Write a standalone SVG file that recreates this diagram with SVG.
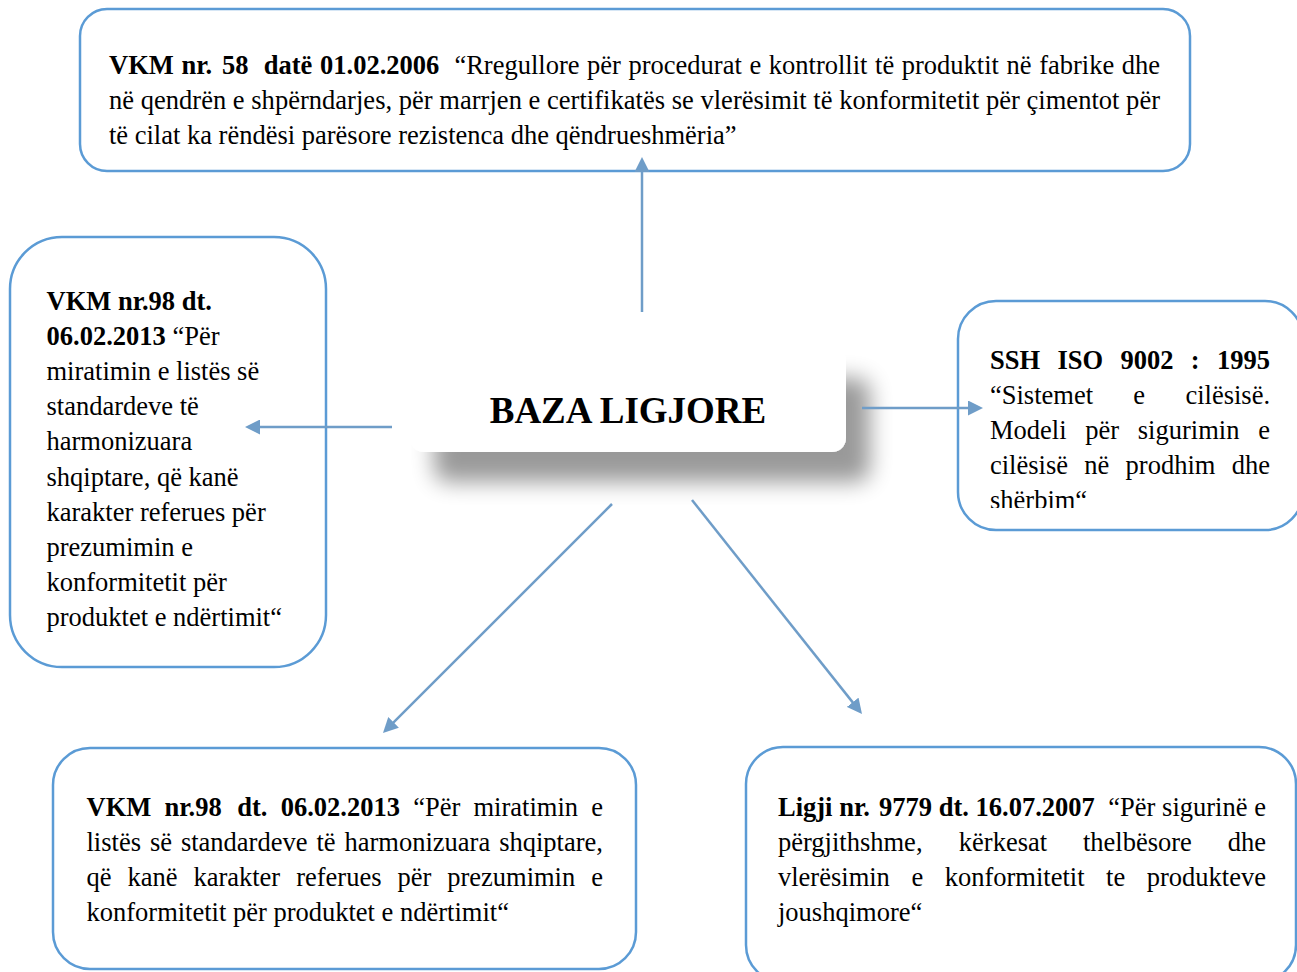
<svg xmlns="http://www.w3.org/2000/svg" width="1297" height="972" viewBox="0 0 1297 972">
<style>
.box{fill:#fff;stroke:#5B9BD5;stroke-width:2.5}
.t{font-family:"Liberation Serif","Times New Roman",serif;font-size:26.5px;fill:#000}
.b{font-weight:bold}
.conn line{stroke:#6F9DC8;stroke-width:2.5;marker-end:url(#ah)}
</style>
<defs>
<marker id="ah" markerUnits="userSpaceOnUse" viewBox="0 0 15 15" markerWidth="15" markerHeight="15" refX="11" refY="7.5" orient="auto">
<path d="M0,0 L15,7.5 L0,15 z" fill="#6F9DC8"/>
</marker>
<filter id="sh" x="-15%" y="-30%" width="140%" height="200%">
<feGaussianBlur in="SourceAlpha" stdDeviation="11"/>
<feOffset dx="24" dy="30" result="o"/>
<feComponentTransfer><feFuncA type="linear" slope="0.4"/></feComponentTransfer>
<feMerge><feMergeNode/><feMergeNode in="SourceGraphic"/></feMerge>
</filter>
<clipPath id="rclip"><rect x="958" y="301" width="339" height="207"/></clipPath>
</defs>
<rect width="1297" height="972" fill="#fff"/>

<g id="node-top">
<rect class="box" x="80" y="9" width="1110" height="162" rx="27"/>
<text class="t" y="73.5"><tspan class="b" x="109">VKM</tspan><tspan class="b" x="181.4">nr.</tspan><tspan class="b" x="222.1">58</tspan><tspan class="b" x="263.8">datë</tspan><tspan class="b" x="320">01.02.2006</tspan><tspan x="454.4">“Rregullore</tspan><tspan x="587.1">për</tspan><tspan x="628.5">procedurat</tspan><tspan x="749.4">e</tspan><tspan x="768.8">kontrollit</tspan><tspan x="875.1">të</tspan><tspan x="901.8">produktit</tspan><tspan x="1006.6">në</tspan><tspan x="1039.2">fabrike</tspan><tspan x="1121.8">dhe</tspan></text>
<text class="t" x="109" y="108.5" textLength="1051" lengthAdjust="spacing">në qendrën e shpërndarjes, për marrjen e certifikatës se vlerësimit të konformitetit për çimentot për</text>
<text class="t" x="109" y="143.5">të cilat ka rëndësi parësore rezistenca dhe qëndrueshmëria”</text>
</g>

<g id="node-left">
<rect class="box" x="10" y="237" width="316" height="430" rx="52"/>
<text class="t" x="46.5" y="310"><tspan class="b">VKM nr.98 dt.</tspan></text>
<text class="t" x="46.5" y="345"><tspan class="b">06.02.2013</tspan> “Për</text>
<text class="t" x="46.5" y="380">miratimin e listës së</text>
<text class="t" x="46.5" y="415">standardeve të</text>
<text class="t" x="46.5" y="450">harmonizuara</text>
<text class="t" x="46.5" y="485.5">shqiptare, që kanë</text>
<text class="t" x="46.5" y="521">karakter referues për</text>
<text class="t" x="46.5" y="556">prezumimin e</text>
<text class="t" x="46.5" y="591">konformitetit për</text>
<text class="t" x="46.5" y="626">produktet e ndërtimit“</text>
</g>

<g id="node-right">
<rect class="box" x="958" y="301" width="345" height="229" rx="38"/>
<g clip-path="url(#rclip)">
<text class="t b" y="369"><tspan x="990">SSH</tspan><tspan x="1057.4">ISO</tspan><tspan x="1120.5">9002</tspan><tspan x="1190.8">:</tspan><tspan x="1217">1995</tspan></text>
<text class="t" y="404"><tspan x="990">“Sistemet</tspan><tspan x="1133.3">e</tspan><tspan x="1185.4">cilësisë.</tspan></text>
<text class="t" y="439"><tspan x="990">Modeli</tspan><tspan x="1085.3">për</tspan><tspan x="1137.8">sigurimin</tspan><tspan x="1258.2">e</tspan></text>
<text class="t" y="474"><tspan x="990">cilësisë</tspan><tspan x="1084.3">në</tspan><tspan x="1125.6">prodhim</tspan><tspan x="1231.7">dhe</tspan></text>
<text class="t" x="990" y="509">shërbim“</text>
</g>
</g>

<g id="node-center">
<rect x="410" y="348" width="436" height="104" rx="14" fill="#fff" filter="url(#sh)"/>
<text x="628" y="423" text-anchor="middle" font-family="Liberation Serif, Times New Roman, serif" font-size="37" font-weight="bold" fill="#000">BAZA LIGJORE</text>
</g>

<g id="node-bottom-left">
<rect class="box" x="53" y="748" width="583" height="221" rx="37"/>
<text class="t" y="816"><tspan class="b" x="86.5">VKM</tspan><tspan class="b" x="164.5">nr.98</tspan><tspan class="b" x="237.3">dt.</tspan><tspan class="b" x="280.7">06.02.2013</tspan><tspan x="413.2">“Për</tspan><tspan x="473.5">miratimin</tspan><tspan x="591.2">e</tspan></text>
<text class="t" y="851"><tspan x="86.5">listës</tspan><tspan x="149.9">së</tspan><tspan x="180.9">standardeve</tspan><tspan x="316.5">të</tspan><tspan x="344.5">harmonizuara</tspan><tspan x="499.2">shqiptare,</tspan></text>
<text class="t" y="886"><tspan x="86.5">që</tspan><tspan x="127.5">kanë</tspan><tspan x="193.4">karakter</tspan><tspan x="296.2">referues</tspan><tspan x="397.4">për</tspan><tspan x="447.2">prezumimin</tspan><tspan x="591.2">e</tspan></text>
<text class="t" x="86.5" y="921">konformitetit për produktet e ndërtimit“</text>
</g>

<g id="node-bottom-right">
<rect class="box" x="746" y="747" width="550" height="235" rx="37"/>
<text class="t" y="815.5"><tspan class="b" x="778">Ligji</tspan><tspan class="b" x="839.2">nr.</tspan><tspan class="b" x="879">9779</tspan><tspan class="b" x="938.7">dt.</tspan><tspan class="b" x="975.6">16.07.2007</tspan><tspan x="1108.3">“Për</tspan><tspan x="1162.1">sigurinë</tspan><tspan x="1254.2">e</tspan></text>
<text class="t" y="850.5"><tspan x="778">përgjithshme,</tspan><tspan x="958.8">kërkesat</tspan><tspan x="1082.9">thelbësore</tspan><tspan x="1227.7">dhe</tspan></text>
<text class="t" y="885.5"><tspan x="778">vlerësimin</tspan><tspan x="911.4">e</tspan><tspan x="944.7">konformitetit</tspan><tspan x="1106.1">te</tspan><tspan x="1146.8">produkteve</tspan></text>
<text class="t" x="778" y="920.5">joushqimore“</text>
</g>

<g id="connectors" class="conn">
<line x1="642" y1="312" x2="642" y2="161"/>
<line x1="392" y1="427" x2="249" y2="427"/>
<line x1="862" y1="408" x2="979" y2="408"/>
<line x1="612" y1="504" x2="385.8" y2="730.2"/>
<line x1="692" y1="500" x2="859.5" y2="710.9"/>
</g>
</svg>
